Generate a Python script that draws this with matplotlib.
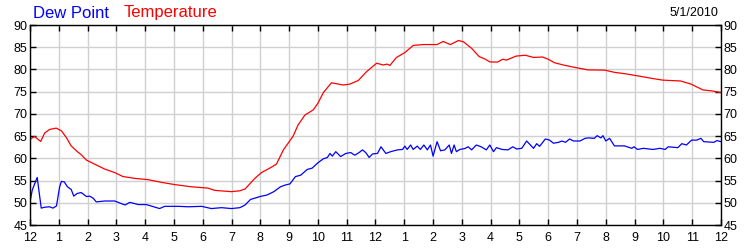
import matplotlib.pyplot as plt

plt.rcParams['font.family'] = ['Liberation Sans', 'DejaVu Sans']

# hours since midnight
temp_hours = [0.0, 0.16, 0.37, 0.51, 0.68, 0.91, 1.09, 1.26, 1.43, 1.61, 1.78, 1.96, 2.24, 2.59,
              2.94, 3.23, 3.63, 4.10, 4.56, 5.02, 5.6, 6.18, 6.41, 6.99, 7.29, 7.47, 7.81, 8.04,
              8.33, 8.56, 8.80, 9.14, 9.31, 9.55, 9.84, 10.0, 10.19, 10.47, 10.88, 11.11, 11.4,
              11.69, 12.04, 12.27, 12.4, 12.5, 12.73, 13.02, 13.31, 13.66, 14.14, 14.35, 14.6,
              14.88, 15.05, 15.34, 15.6, 15.8, 15.97, 16.24, 16.42, 16.55, 16.88, 17.2, 17.49,
              17.8, 18.0, 18.22, 18.56, 18.97, 19.38, 19.96, 20.3, 20.7, 21.2, 21.5, 21.97,
              22.6, 22.96, 23.37, 23.7, 24.0]
temp_vals = [64.3, 64.9, 63.8, 65.7, 66.5, 66.8, 66.2, 64.7, 62.8, 61.7, 60.8, 59.6, 58.7, 57.6,
             56.8, 55.9, 55.5, 55.2, 54.6, 54.1, 53.6, 53.3, 52.8, 52.5, 52.7, 53.1, 55.5, 56.8,
             57.8, 58.7, 61.9, 65.0, 67.5, 69.75, 70.9, 72.4, 74.8, 77.0, 76.5, 76.7, 77.5,
             79.5, 81.4, 81.0, 81.2, 80.9, 82.7, 83.8, 85.4, 85.6, 85.6, 86.3, 85.6,
             86.5, 86.25, 84.75, 82.9, 82.35, 81.7, 81.65, 82.3, 82.1, 83.0, 83.2, 82.7,
             82.8, 82.3, 81.5, 80.95, 80.4, 79.9, 79.85, 79.35, 79.0, 78.45, 78.1, 77.6,
             77.4, 76.7, 75.4, 75.15, 74.8]

dew_hours = [0.0, 0.08, 0.25, 0.39, 0.51, 0.68, 0.8, 0.92, 1.03, 1.09, 1.19, 1.30, 1.43, 1.52,
             1.64, 1.78, 1.96, 2.07, 2.2, 2.3, 2.6, 2.94, 3.3, 3.47, 3.76, 4.04, 4.5, 4.68, 5.15,
             5.5, 5.96, 6.3, 6.65, 7.0, 7.29, 7.47, 7.66, 7.99, 8.23, 8.47, 8.7, 8.87, 9.03,
             9.22, 9.4, 9.63, 9.8, 10.0, 10.19, 10.33, 10.42, 10.5, 10.62, 10.79, 10.97, 11.14,
             11.28, 11.43, 11.55, 11.66, 11.78, 11.9, 12.07, 12.19, 12.36, 12.53, 12.76, 12.94,
             13.02, 13.1, 13.22, 13.31, 13.45, 13.56, 13.68, 13.8, 13.91, 14.0, 14.14, 14.26,
             14.41, 14.56, 14.64, 14.73, 14.81, 14.93, 15.1, 15.22, 15.34, 15.5, 15.67, 15.85,
             15.97, 16.1, 16.2, 16.4, 16.6, 16.77, 16.9, 17.08, 17.25, 17.49, 17.6, 17.7, 17.9,
             18.05, 18.18, 18.36, 18.47, 18.6, 18.74, 18.88, 19.1, 19.28, 19.4, 19.6, 19.7,
             19.83, 19.9, 20.0, 20.13, 20.3, 20.65, 20.9, 20.98, 21.1, 21.3, 21.64, 21.88,
             22.06, 22.17, 22.5, 22.64, 22.8, 22.98, 23.16, 23.3, 23.4, 23.75, 23.86, 24.0]
dew_vals = [50.2, 52.9, 55.7, 48.8, 49.0, 49.1, 48.8, 49.3, 53.6, 54.8, 54.7, 53.6, 53.0, 51.5,
            52.1, 52.3, 51.4, 51.5, 51.0, 50.2, 50.4, 50.4, 49.5, 50.1, 49.6, 49.6, 48.7, 49.2, 49.2,
            49.1, 49.2, 48.7, 48.9, 48.7, 48.9, 49.5, 50.75, 51.4, 51.75, 52.5, 53.6, 54.0, 54.25,
            55.9, 56.2, 57.5, 57.8, 59.0, 59.9, 60.2, 61.1, 60.5, 61.5, 60.4, 61.1, 61.3,
            60.7, 61.3, 61.9, 61.3, 60.2, 61.0, 61.1, 62.6, 61.1, 61.5, 61.9, 62.0,
            62.75, 62.0, 63.0, 62.0, 62.75, 62.0, 63.0, 61.9, 63.0, 60.5, 63.75, 61.7,
            61.9, 63.0, 61.1, 63.0, 61.5, 62.0, 62.2, 62.6, 61.9, 63.0, 62.6, 61.9,
            63.0, 61.5, 62.4, 62.0, 61.9, 62.6, 62.1, 62.25, 63.9, 62.25, 63.3, 62.7, 64.35,
            64.1, 63.4, 63.6, 63.9, 63.6, 64.35, 63.9, 63.9, 64.5, 64.6, 64.5, 65.1,
            64.6, 65.1, 63.9, 64.5, 62.8, 62.8, 62.25, 62.6, 62.0, 62.25, 62.0, 62.25,
            62.0, 62.6, 62.4, 63.3, 63.0, 64.1, 64.1, 64.5, 63.75, 63.6, 64.0, 63.75]

hour_labels = ['12'] + [str(i) for i in range(1, 12)] + ['12'] + [str(i) for i in range(1, 12)] + ['12']
y_ticks = list(range(45, 91, 5))

fig = plt.figure(figsize=(7.5, 2.5), dpi=100)
ax = fig.add_axes([0.04, 0.1, 0.9213, 0.8])

ax.plot(temp_hours, temp_vals, color='#ff0000', lw=0.9)
ax.plot(dew_hours, dew_vals, color='#0000ff', lw=0.9)

ax.set_xlim(0, 24)
ax.set_ylim(45, 90)
ax.set_xticks(range(25))
ax.set_xticklabels(hour_labels)
ax.set_yticks(y_ticks)
ax.grid(True, color='#d0d0d0', lw=1.0)
ax.set_axisbelow(True)
ax.tick_params(direction='in', length=4, width=1, labelsize=9, pad=2,
               top=True, right=True, labelright=True)
ax.tick_params(axis='x', pad=5)
for s in ax.spines.values():
    s.set_linewidth(1.0)

fig.text(0.044, 0.948, 'Dew Point', color='#0000ff', fontsize=12, va='center', ha='left')
fig.text(0.165, 0.948, 'Temperature', color='#ff0000', fontsize=12, va='center', ha='left')
fig.text(0.958, 0.948, '5/1/2010', color='black', fontsize=9, va='center', ha='right')

plt.savefig('out.png', dpi=100)
